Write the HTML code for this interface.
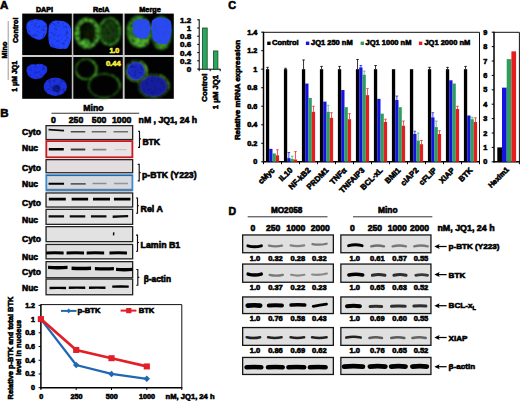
<!DOCTYPE html>
<html><head><meta charset="utf-8"><style>
html,body{margin:0;padding:0;background:#fff;}
svg{display:block;font-family:"Liberation Sans",sans-serif;}
</style></head><body>
<svg width="520" height="401" viewBox="0 0 520 401">
<defs>
<filter id="blur1" x="-20%" y="-20%" width="140%" height="140%"><feGaussianBlur stdDeviation="0.9"/></filter>
<filter id="tex" x="-20%" y="-20%" width="140%" height="140%"><feTurbulence type="fractalNoise" baseFrequency="0.35" numOctaves="2" seed="4" result="n"/><feColorMatrix in="n" type="matrix" values="0 0 0 0 0  0 0 0 0 0  0 0 0 0 0  0 0 0 2.0 -0.2" result="m"/><feComposite in="SourceGraphic" in2="m" operator="in" result="c"/><feGaussianBlur in="c" stdDeviation="0.7"/></filter>
<filter id="tex3" x="-20%" y="-20%" width="140%" height="140%"><feTurbulence type="fractalNoise" baseFrequency="0.4" numOctaves="2" seed="7" result="n"/><feColorMatrix in="n" type="matrix" values="0 0 0 0 0  0 0 0 0 0  0 0 0 0 0  0 0 0 2.2 -0.35" result="m"/><feComposite in="SourceGraphic" in2="m" operator="in" result="c"/><feGaussianBlur in="c" stdDeviation="0.95"/></filter>
<filter id="tex2" x="-20%" y="-20%" width="140%" height="140%"><feTurbulence type="fractalNoise" baseFrequency="0.35" numOctaves="2" seed="9" result="n"/><feColorMatrix in="n" type="matrix" values="0 0 0 0 0  0 0 0 0 0  0 0 0 0 0  0 0 0 1.0 0.5" result="m"/><feComposite in="SourceGraphic" in2="m" operator="in" result="c"/><feGaussianBlur in="c" stdDeviation="0.7"/></filter>
<filter id="blur05" x="-20%" y="-20%" width="140%" height="140%"><feGaussianBlur stdDeviation="0.5"/></filter>
<filter id="bblur" filterUnits="userSpaceOnUse" x="0" y="0" width="520" height="401"><feGaussianBlur stdDeviation="0.45"/></filter>
<filter id="bblur2" filterUnits="userSpaceOnUse" x="0" y="0" width="520" height="401"><feGaussianBlur stdDeviation="0.7"/></filter>
</defs>
<rect width="520" height="401" fill="#fff"/>
<text x="0" y="8.6" font-size="11.5" text-anchor="start" fill="#000" font-weight="bold" stroke="#000" stroke-width="0.6">A</text>
<text x="44.5" y="11.9" font-size="7.2" text-anchor="middle" fill="#000" font-weight="bold" stroke="#000" stroke-width="0.6">DAPI</text>
<text x="101.2" y="11.8" font-size="7.2" text-anchor="middle" fill="#000" font-weight="bold" stroke="#000" stroke-width="0.6">RelA</text>
<text x="150" y="11.8" font-size="7.3" text-anchor="middle" fill="#000" font-weight="bold" stroke="#000" stroke-width="0.6">Merge</text>
<text x="6.6" y="50" font-size="7.2" text-anchor="middle" fill="#000" font-weight="bold" transform="rotate(-90 6.6 50)" stroke="#000" stroke-width="0.6">Mino</text>
<line x1="8.20" y1="21.00" x2="8.20" y2="80.00" stroke="#9a9a9a" stroke-width="1"/>
<text x="18.2" y="30.3" font-size="7.2" text-anchor="middle" fill="#000" font-weight="bold" transform="rotate(-90 18.2 30.3)" stroke="#000" stroke-width="0.6">Control</text>
<text x="17.4" y="76.3" font-size="6.9" text-anchor="middle" fill="#000" font-weight="bold" transform="rotate(-90 17.4 76.3)" stroke="#000" stroke-width="0.6">1 μM JQ1</text>
<rect x="22.20" y="13.60" width="49.70" height="41.50" fill="#020202"/>
<rect x="73.20" y="13.60" width="49.60" height="41.50" fill="#020202"/>
<rect x="124.40" y="13.60" width="49.40" height="41.50" fill="#020202"/>
<rect x="22.20" y="56.90" width="49.70" height="41.90" fill="#020202"/>
<rect x="73.20" y="56.90" width="49.60" height="41.90" fill="#020202"/>
<rect x="124.40" y="56.90" width="49.40" height="41.90" fill="#020202"/>
<rect x="71.90" y="13.60" width="1.20" height="85.20" fill="#c4c4c4"/>
<rect x="123.10" y="13.60" width="1.20" height="85.20" fill="#c4c4c4"/>
<rect x="22.20" y="55.30" width="151.60" height="1.40" fill="#c4c4c4"/>
<g filter="url(#tex2)">
<path d="M26.5,28 C25.5,21 32,18.5 38,19.5 C44,19.5 48,23 47.2,30 C46.5,35 44,40 39,39.8 C35,39 30,36.5 27.5,33 Z" fill="#2444ff"/>
<path d="M48.8,27 C49.5,21.5 55,19.8 59,20.8 C64,20 69.5,23 70.8,28 C71.8,35 71.2,44 67,48.5 C62,50 56,48.5 51,47 C48,44 48,35 48.8,27 Z" fill="#2444ff"/>
</g>
<g filter="url(#tex3)">
<ellipse cx="87.3" cy="33.1" rx="10.8" ry="13.4" fill="none" stroke="#58c434" stroke-width="4.2"/>
<ellipse cx="88.5" cy="33" rx="6.5" ry="8" fill="#0a1e06"/>
<ellipse cx="84.5" cy="43" rx="5.5" ry="3.5" fill="#5ad83a"/>
<ellipse cx="78" cy="34" rx="2" ry="6" fill="#50c832"/>
<ellipse cx="109.7" cy="31.5" rx="10.2" ry="13.2" fill="none" stroke="#38a022" stroke-width="2.6"/>
<ellipse cx="109.7" cy="31.5" rx="8" ry="11" fill="#1c4a10"/>
</g>
<text x="109.4" y="53.1" font-size="7.1" text-anchor="start" fill="#f4ec3a" font-weight="bold" stroke="#f4ec3a" stroke-width="0.6">1.0</text>
<g filter="url(#tex3)">
<ellipse cx="139" cy="31.2" rx="12.3" ry="16" fill="#3a9c24"/>
<ellipse cx="140" cy="42" rx="9" ry="5.5" fill="#5ccc36"/>
<ellipse cx="161.2" cy="32.8" rx="11" ry="17" fill="#2a7a1c"/>
<ellipse cx="162" cy="46" rx="7" ry="3.5" fill="#4aa82c"/>
</g>
<g filter="url(#tex2)">
<path d="M132.5,24 C134,18 146,17.5 149.5,22 C151,28 150.5,35 146,38.5 C141,39.5 135,37.5 133,33 Z" fill="#2a48f6"/>
<path d="M152,21 C154,16.5 168,16 171,22 C172.2,30 171.5,40 167,43.5 C161,45 155,43 153,40 C151.2,33 151,26 152,21 Z" fill="#2a48f6"/>
</g>
<g filter="url(#tex2)">
<path d="M26.5,70 C26.5,65 32,63.5 36,64.5 C39,63 44,64 46.8,67 C48.3,71 46,73 44,75.5 C41,79.5 36,80 32,78.3 C29,77 26.5,74 26.5,70 Z" fill="#1f36ee"/>
<ellipse cx="55.3" cy="86.7" rx="11.6" ry="9.2" fill="#1c30de"/>
<ellipse cx="56.5" cy="88.5" rx="4" ry="3.5" fill="#0c1a80"/>
</g>
<g filter="url(#tex3)">
<circle cx="86" cy="69.2" r="10.1" fill="none" stroke="#3aa822" stroke-width="1.5"/>
<path d="M93,61.5 A10.1,10.1 0 0 1 90,78.8" fill="none" stroke="#5cd43a" stroke-width="1.8"/>
<path d="M76.5,73 A10.1,10.1 0 0 0 84,79.2" fill="none" stroke="#4cc42e" stroke-width="1.6"/>
<ellipse cx="104" cy="85.8" rx="15.3" ry="11.9" fill="none" stroke="#2a7a18" stroke-width="1.6"/>
<path d="M112,75 A15.3,11.9 0 0 1 118.8,90" fill="none" stroke="#3c9c22" stroke-width="1.5"/>
</g>
<text x="105.9" y="66.1" font-size="7.6" text-anchor="start" fill="#f4ec3a" font-weight="bold" stroke="#f4ec3a" stroke-width="0.6">0.44</text>
<g filter="url(#tex2)">
<circle cx="136" cy="71" r="9.4" fill="#1a2ac4"/>
<ellipse cx="153.5" cy="86.2" rx="13.8" ry="10.8" fill="#141fa0"/>
</g>
<g filter="url(#tex3)">
<circle cx="136" cy="71" r="10" fill="none" stroke="#5cb832" stroke-width="1.3"/>
<path d="M141,61.8 A10,10 0 0 1 137,81" fill="none" stroke="#7ccc3a" stroke-width="1.6"/>
<path d="M127,75 A10,10 0 0 0 134,80.8" fill="none" stroke="#70c438" stroke-width="1.6"/>
<ellipse cx="153.5" cy="86.2" rx="14.7" ry="11.5" fill="none" stroke="#4a9a2a" stroke-width="1.2"/>
<path d="M160,75.2 A14.7,11.5 0 0 1 168,90" fill="none" stroke="#6cc036" stroke-width="1.5"/>
</g>
<line x1="199.20" y1="19.30" x2="199.20" y2="69.50" stroke="#000" stroke-width="1"/>
<line x1="198.70" y1="69.20" x2="220.50" y2="69.20" stroke="#000" stroke-width="1"/>
<line x1="197.20" y1="69.00" x2="199.20" y2="69.00" stroke="#000" stroke-width="1"/>
<text x="191.2" y="71.9" font-size="8.0" text-anchor="end" fill="#000" font-weight="bold" stroke="#000" stroke-width="0.6">0</text>
<line x1="197.20" y1="60.80" x2="199.20" y2="60.80" stroke="#000" stroke-width="1"/>
<text x="191.2" y="63.699999999999996" font-size="8.0" text-anchor="end" fill="#000" font-weight="bold" stroke="#000" stroke-width="0.6">0.2</text>
<line x1="197.20" y1="52.60" x2="199.20" y2="52.60" stroke="#000" stroke-width="1"/>
<text x="191.2" y="55.49999999999999" font-size="8.0" text-anchor="end" fill="#000" font-weight="bold" stroke="#000" stroke-width="0.6">0.4</text>
<line x1="197.20" y1="44.40" x2="199.20" y2="44.40" stroke="#000" stroke-width="1"/>
<text x="191.2" y="47.29999999999999" font-size="8.0" text-anchor="end" fill="#000" font-weight="bold" stroke="#000" stroke-width="0.6">0.6</text>
<line x1="197.20" y1="36.20" x2="199.20" y2="36.20" stroke="#000" stroke-width="1"/>
<text x="191.2" y="39.099999999999994" font-size="8.0" text-anchor="end" fill="#000" font-weight="bold" stroke="#000" stroke-width="0.6">0.8</text>
<line x1="197.20" y1="28.00" x2="199.20" y2="28.00" stroke="#000" stroke-width="1"/>
<text x="191.2" y="30.9" font-size="8.0" text-anchor="end" fill="#000" font-weight="bold" stroke="#000" stroke-width="0.6">1</text>
<line x1="197.20" y1="19.80" x2="199.20" y2="19.80" stroke="#000" stroke-width="1"/>
<text x="191.2" y="22.69999999999999" font-size="8.0" text-anchor="end" fill="#000" font-weight="bold" stroke="#000" stroke-width="0.6">1.2</text>
<line x1="199.20" y1="69.20" x2="199.20" y2="71.20" stroke="#000" stroke-width="1"/>
<line x1="210.20" y1="69.20" x2="210.20" y2="71.20" stroke="#000" stroke-width="1"/>
<line x1="220.20" y1="69.20" x2="220.20" y2="71.20" stroke="#000" stroke-width="1"/>
<rect x="202.40" y="28.00" width="4.80" height="41.20" fill="#2ca65e" stroke="#134d2a" stroke-width="0.8"/>
<rect x="213.40" y="50.96" width="4.50" height="18.24" fill="#2ca65e" stroke="#134d2a" stroke-width="0.8"/>
<text x="207.4" y="73.6" font-size="7.9" text-anchor="end" fill="#000" font-weight="bold" transform="rotate(-90 207.4 73.6)" stroke="#000" stroke-width="0.6">Control</text>
<text x="217.8" y="75.0" font-size="7.7" text-anchor="end" fill="#000" font-weight="bold" transform="rotate(-90 217.8 75.0)" stroke="#000" stroke-width="0.6">1 μM JQ1</text>
<text x="0.3" y="117.2" font-size="11.5" text-anchor="start" fill="#000" font-weight="bold" stroke="#000" stroke-width="0.6">B</text>
<text x="93.4" y="110.6" font-size="8.7" text-anchor="middle" fill="#000" font-weight="bold" stroke="#000" stroke-width="0.6">Mino</text>
<line x1="51.50" y1="113.20" x2="139.20" y2="113.20" stroke="#333" stroke-width="1.1"/>
<text x="53.5" y="122.7" font-size="8.7" text-anchor="middle" fill="#000" font-weight="bold" stroke="#000" stroke-width="0.6">0</text>
<text x="76.0" y="122.7" font-size="8.7" text-anchor="middle" fill="#000" font-weight="bold" stroke="#000" stroke-width="0.6">250</text>
<text x="99.1" y="122.7" font-size="8.7" text-anchor="middle" fill="#000" font-weight="bold" stroke="#000" stroke-width="0.6">500</text>
<text x="121.7" y="122.7" font-size="8.7" text-anchor="middle" fill="#000" font-weight="bold" stroke="#000" stroke-width="0.6">1000</text>
<text x="138.6" y="123.0" font-size="8.7" text-anchor="start" fill="#000" font-weight="bold" stroke="#000" stroke-width="0.6">nM , JQ1, 24 h</text>
<rect x="46.05" y="125.65" width="86.60" height="13.90" fill="#e2e2e4" stroke="#222" stroke-width="1.3"/>
<text x="22.0" y="134.8" font-size="8.5" text-anchor="start" fill="#000" font-weight="bold" stroke="#000" stroke-width="0.6">Cyto</text>
<rect x="46.30" y="141.10" width="86.10" height="16.20" fill="#ebe4e6" stroke="#c81820" stroke-width="1.8"/>
<text x="22.0" y="151.4" font-size="8.5" text-anchor="start" fill="#000" font-weight="bold" stroke="#000" stroke-width="0.6">Nuc</text>
<rect x="46.05" y="159.65" width="86.60" height="13.10" fill="#e2dedf" stroke="#222" stroke-width="1.3"/>
<text x="22.0" y="170.6" font-size="8.5" text-anchor="start" fill="#000" font-weight="bold" stroke="#000" stroke-width="0.6">Cyto</text>
<rect x="46.30" y="175.10" width="86.10" height="15.30" fill="#d6d9dd" stroke="#3a8ad6" stroke-width="1.8"/>
<text x="22.0" y="187.2" font-size="8.5" text-anchor="start" fill="#000" font-weight="bold" stroke="#000" stroke-width="0.6">Nuc</text>
<rect x="46.05" y="192.95" width="86.60" height="14.10" fill="#e6e6e6" stroke="#222" stroke-width="1.3"/>
<text x="22.0" y="205.5" font-size="8.5" text-anchor="start" fill="#000" font-weight="bold" stroke="#000" stroke-width="0.6">Cyto</text>
<rect x="46.05" y="209.35" width="86.60" height="15.00" fill="#e4e4e4" stroke="#222" stroke-width="1.3"/>
<text x="22.0" y="222.7" font-size="8.5" text-anchor="start" fill="#000" font-weight="bold" stroke="#000" stroke-width="0.6">Nuc</text>
<rect x="46.05" y="226.65" width="86.60" height="15.00" fill="#e2e2e2" stroke="#222" stroke-width="1.3"/>
<text x="22.0" y="242.2" font-size="8.5" text-anchor="start" fill="#000" font-weight="bold" stroke="#000" stroke-width="0.6">Cyto</text>
<rect x="46.05" y="244.45" width="86.60" height="14.40" fill="#e0e0e0" stroke="#222" stroke-width="1.3"/>
<text x="22.0" y="259.7" font-size="8.5" text-anchor="start" fill="#000" font-weight="bold" stroke="#000" stroke-width="0.6">Nuc</text>
<rect x="46.05" y="261.65" width="86.60" height="16.10" fill="#dedede" stroke="#222" stroke-width="1.3"/>
<text x="22.0" y="275.0" font-size="8.5" text-anchor="start" fill="#000" font-weight="bold" stroke="#000" stroke-width="0.6">Cyto</text>
<rect x="46.05" y="279.05" width="86.60" height="15.70" fill="#e0e0e0" stroke="#222" stroke-width="1.3"/>
<text x="22.0" y="291.4" font-size="8.5" text-anchor="start" fill="#000" font-weight="bold" stroke="#000" stroke-width="0.6">Nuc</text>
<rect x="46.30" y="188.80" width="86.10" height="2.40" fill="#557ea6"/>
<line x1="46.30" y1="175.60" x2="132.40" y2="175.60" stroke="#2a5e98" stroke-width="0.9"/>
<path d="M48.55,128.85 Q56.30,129.35 64.05,129.85 L64.05,131.55 Q56.30,131.05 48.55,130.55 Z" fill="#111" fill-opacity="1" filter="url(#bblur)"/>
<path d="M70.75,131.00 Q78.00,131.00 85.25,131.00 L85.25,132.60 Q78.00,132.60 70.75,132.60 Z" fill="#333" fill-opacity="0.85" filter="url(#bblur)"/>
<path d="M91.75,131.00 Q99.00,131.00 106.25,131.00 L106.25,132.60 Q99.00,132.60 91.75,132.60 Z" fill="#333" fill-opacity="0.7" filter="url(#bblur)"/>
<path d="M113.55,131.00 Q120.80,131.00 128.05,131.00 L128.05,132.60 Q120.80,132.60 113.55,132.60 Z" fill="#333" fill-opacity="0.65" filter="url(#bblur)"/>
<path d="M48.80,148.10 Q56.30,148.10 63.80,148.10 L63.80,150.50 Q56.30,150.50 48.80,150.50 Z" fill="#000" fill-opacity="1" filter="url(#bblur)"/>
<path d="M70.75,148.60 Q78.00,148.60 85.25,148.60 L85.25,150.60 Q78.00,150.60 70.75,150.60 Z" fill="#111" fill-opacity="0.8" filter="url(#bblur)"/>
<path d="M92.75,148.80 Q99.50,148.80 106.25,148.80 L106.25,150.40 Q99.50,150.40 92.75,150.40 Z" fill="#333" fill-opacity="0.55" filter="url(#bblur)"/>
<path d="M114.80,148.90 Q120.80,148.90 126.80,148.90 L126.80,150.30 Q120.80,150.30 114.80,150.30 Z" fill="#444" fill-opacity="0.2" filter="url(#bblur)"/>
<path d="M48.55,182.75 Q56.30,182.75 64.05,182.75 L64.05,184.65 Q56.30,184.65 48.55,184.65 Z" fill="#000" fill-opacity="1" filter="url(#bblur)"/>
<path d="M70.70,183.10 Q78.20,183.10 85.70,183.10 L85.70,184.70 Q78.20,184.70 70.70,184.70 Z" fill="#333" fill-opacity="0.75" filter="url(#bblur)"/>
<path d="M92.50,182.85 Q99.50,182.85 106.50,182.85 L106.50,184.35 Q99.50,184.35 92.50,184.35 Z" fill="#444" fill-opacity="0.5" filter="url(#bblur)"/>
<path d="M114.00,182.65 Q121.00,182.65 128.00,182.65 L128.00,184.15 Q121.00,184.15 114.00,184.15 Z" fill="#444" fill-opacity="0.45" filter="url(#bblur)"/>
<path d="M48.80,197.85 Q57.30,197.55 65.80,197.85 L65.80,200.55 Q57.30,200.25 48.80,200.55 Z" fill="#000" fill-opacity="1" filter="url(#bblur)"/>
<path d="M71.65,197.85 Q79.90,197.55 88.15,197.85 L88.15,200.55 Q79.90,200.25 71.65,200.55 Z" fill="#000" fill-opacity="1" filter="url(#bblur)"/>
<path d="M93.00,197.85 Q101.50,197.55 110.00,197.85 L110.00,200.55 Q101.50,200.25 93.00,200.55 Z" fill="#000" fill-opacity="1" filter="url(#bblur)"/>
<path d="M113.95,197.85 Q122.20,197.55 130.45,197.85 L130.45,200.55 Q122.20,200.25 113.95,200.55 Z" fill="#000" fill-opacity="1" filter="url(#bblur)"/>
<path d="M48.55,215.25 Q56.30,215.25 64.05,215.25 L64.05,217.55 Q56.30,217.55 48.55,217.55 Z" fill="#000" fill-opacity="0.95" filter="url(#bblur)"/>
<path d="M69.75,215.25 Q77.50,215.25 85.25,215.25 L85.25,217.55 Q77.50,217.55 69.75,217.55 Z" fill="#000" fill-opacity="0.95" filter="url(#bblur)"/>
<path d="M90.95,215.25 Q98.70,215.25 106.45,215.25 L106.45,217.55 Q98.70,217.55 90.95,217.55 Z" fill="#000" fill-opacity="0.95" filter="url(#bblur)"/>
<path d="M112.65,215.60 Q120.40,215.25 128.15,214.90 L128.15,217.20 Q120.40,217.55 112.65,217.90 Z" fill="#000" fill-opacity="0.95" filter="url(#bblur)"/>
<path d="M113.0,232.2 L114.6,232.6 L114.2,235.6 L112.8,235.2 Z" fill="#111" filter="url(#bblur)"/>
<path d="M46.15,251.40 Q54.90,251.00 63.65,251.40 L63.65,254.40 Q54.90,254.00 46.15,254.40 Z" fill="#000" fill-opacity="1" filter="url(#bblur)"/>
<path d="M66.55,251.40 Q75.30,251.00 84.05,251.40 L84.05,254.40 Q75.30,254.00 66.55,254.40 Z" fill="#000" fill-opacity="1" filter="url(#bblur)"/>
<path d="M86.65,251.40 Q95.40,251.00 104.15,251.40 L104.15,254.40 Q95.40,254.00 86.65,254.40 Z" fill="#000" fill-opacity="1" filter="url(#bblur)"/>
<path d="M109.45,251.40 Q118.20,251.00 126.95,251.40 L126.95,254.40 Q118.20,254.00 109.45,254.40 Z" fill="#000" fill-opacity="1" filter="url(#bblur)"/>
<path d="M48.05,265.70 Q57.80,266.30 67.55,265.70 L67.55,269.10 Q57.80,269.70 48.05,269.10 Z" fill="#000" fill-opacity="1" filter="url(#bblur)"/>
<path d="M71.55,266.50 Q81.30,267.10 91.05,266.50 L91.05,269.90 Q81.30,270.50 71.55,269.90 Z" fill="#000" fill-opacity="1" filter="url(#bblur)"/>
<path d="M94.90,266.90 Q104.40,267.50 113.90,266.90 L113.90,270.30 Q104.40,270.90 94.90,270.30 Z" fill="#000" fill-opacity="1" filter="url(#bblur)"/>
<path d="M116.05,267.70 Q124.30,268.30 132.55,267.70 L132.55,271.10 Q124.30,271.70 116.05,271.10 Z" fill="#000" fill-opacity="1" filter="url(#bblur)"/>
<path d="M49.55,286.80 Q57.80,286.50 66.05,286.80 L66.05,289.20 Q57.80,288.90 49.55,289.20 Z" fill="#000" fill-opacity="1" filter="url(#bblur)"/>
<path d="M68.75,286.60 Q77.00,286.30 85.25,286.60 L85.25,289.00 Q77.00,288.70 68.75,289.00 Z" fill="#000" fill-opacity="1" filter="url(#bblur)"/>
<path d="M88.95,286.60 Q97.20,286.30 105.45,286.60 L105.45,289.00 Q97.20,288.70 88.95,289.00 Z" fill="#000" fill-opacity="1" filter="url(#bblur)"/>
<path d="M112.25,285.40 Q120.50,285.10 128.75,285.40 L128.75,287.80 Q120.50,287.50 112.25,287.80 Z" fill="#000" fill-opacity="1" filter="url(#bblur)"/>
<path d="M138.00,131.20 H139.50 V147.40 H138.00 M139.50,138.80 H141.00" fill="none" stroke="#111" stroke-width="1.15"/>
<text x="142.4" y="144.9" font-size="8.6" text-anchor="start" fill="#000" font-weight="bold" stroke="#000" stroke-width="0.6">BTK</text>
<path d="M137.70,164.40 H139.20 V180.80 H137.70 M139.20,172.60 H140.70" fill="none" stroke="#111" stroke-width="1.15"/>
<text x="142.0" y="178.2" font-size="8.7" text-anchor="start" fill="#000" font-weight="bold" stroke="#000" stroke-width="0.6">p-BTK (Y223)</text>
<path d="M136.00,198.00 H137.50 V213.20 H136.00 M137.50,205.70 H139.00" fill="none" stroke="#111" stroke-width="1.15"/>
<text x="140.6" y="211.6" font-size="8.8" text-anchor="start" fill="#000" font-weight="bold" stroke="#000" stroke-width="0.6">Rel A</text>
<path d="M136.00,235.10 H137.50 V251.20 H136.00 M137.50,242.50 H139.00" fill="none" stroke="#111" stroke-width="1.15"/>
<text x="140.6" y="248.1" font-size="8.8" text-anchor="start" fill="#000" font-weight="bold" stroke="#000" stroke-width="0.6">Lamin B1</text>
<path d="M136.30,269.50 H137.80 V285.20 H136.30 M137.80,277.30 H139.30" fill="none" stroke="#111" stroke-width="1.15"/>
<text x="143.8" y="282.0" font-size="8.3" text-anchor="start" fill="#000" font-weight="bold" stroke="#000" stroke-width="0.6">β-actin</text>
<line x1="40.90" y1="304.60" x2="181.80" y2="304.60" stroke="#111" stroke-width="1"/>
<line x1="181.80" y1="304.60" x2="181.80" y2="387.70" stroke="#111" stroke-width="1"/>
<line x1="40.90" y1="304.20" x2="40.90" y2="388.40" stroke="#000" stroke-width="1.5"/>
<line x1="40.20" y1="387.70" x2="182.30" y2="387.70" stroke="#000" stroke-width="1.5"/>
<line x1="38.60" y1="387.70" x2="40.90" y2="387.70" stroke="#000" stroke-width="1"/>
<text x="35.0" y="390.2" font-size="7.1" text-anchor="end" fill="#000" font-weight="bold" stroke="#000" stroke-width="0.6">0</text>
<line x1="38.60" y1="373.98" x2="40.90" y2="373.98" stroke="#000" stroke-width="1"/>
<text x="35.0" y="376.48" font-size="7.1" text-anchor="end" fill="#000" font-weight="bold" stroke="#000" stroke-width="0.6">0.2</text>
<line x1="38.60" y1="360.26" x2="40.90" y2="360.26" stroke="#000" stroke-width="1"/>
<text x="35.0" y="362.76" font-size="7.1" text-anchor="end" fill="#000" font-weight="bold" stroke="#000" stroke-width="0.6">0.4</text>
<line x1="38.60" y1="346.54" x2="40.90" y2="346.54" stroke="#000" stroke-width="1"/>
<text x="35.0" y="349.03999999999996" font-size="7.1" text-anchor="end" fill="#000" font-weight="bold" stroke="#000" stroke-width="0.6">0.6</text>
<line x1="38.60" y1="332.82" x2="40.90" y2="332.82" stroke="#000" stroke-width="1"/>
<text x="35.0" y="335.32" font-size="7.1" text-anchor="end" fill="#000" font-weight="bold" stroke="#000" stroke-width="0.6">0.8</text>
<line x1="38.60" y1="319.10" x2="40.90" y2="319.10" stroke="#000" stroke-width="1"/>
<text x="35.0" y="321.6" font-size="7.1" text-anchor="end" fill="#000" font-weight="bold" stroke="#000" stroke-width="0.6">1</text>
<line x1="38.60" y1="305.38" x2="40.90" y2="305.38" stroke="#000" stroke-width="1"/>
<text x="35.0" y="307.88" font-size="7.1" text-anchor="end" fill="#000" font-weight="bold" stroke="#000" stroke-width="0.6">1.2</text>
<line x1="40.90" y1="387.70" x2="40.90" y2="390.00" stroke="#000" stroke-width="1"/>
<line x1="76.20" y1="387.70" x2="76.20" y2="390.00" stroke="#000" stroke-width="1"/>
<line x1="111.50" y1="387.70" x2="111.50" y2="390.00" stroke="#000" stroke-width="1"/>
<line x1="146.80" y1="387.70" x2="146.80" y2="390.00" stroke="#000" stroke-width="1"/>
<line x1="181.80" y1="387.70" x2="181.80" y2="390.00" stroke="#000" stroke-width="1"/>
<text x="41.199999999999996" y="399.3" font-size="7.2" text-anchor="middle" fill="#000" font-weight="bold" stroke="#000" stroke-width="0.6">0</text>
<text x="76.5" y="399.3" font-size="7.2" text-anchor="middle" fill="#000" font-weight="bold" stroke="#000" stroke-width="0.6">250</text>
<text x="111.8" y="399.3" font-size="7.2" text-anchor="middle" fill="#000" font-weight="bold" stroke="#000" stroke-width="0.6">500</text>
<text x="147.10000000000002" y="399.3" font-size="7.2" text-anchor="middle" fill="#000" font-weight="bold" stroke="#000" stroke-width="0.6">1000</text>
<text x="165.6" y="399.3" font-size="7.6" text-anchor="start" fill="#000" font-weight="bold" stroke="#000" stroke-width="0.6">nM, JQ1, 24 h</text>
<polyline points="40.90,319.10 76.20,365.06 111.50,373.98 146.80,378.78" fill="none" stroke="#2168b2" stroke-width="2.3"/>
<polyline points="40.90,319.10 76.20,349.97 111.50,358.20 146.80,366.43" fill="none" stroke="#e21f27" stroke-width="2.7"/>
<path d="M40.90,315.90 L44.10,319.10 L40.90,322.30 L37.70,319.10 Z" fill="#2168b2"/>
<path d="M76.20,361.86 L79.40,365.06 L76.20,368.26 L73.00,365.06 Z" fill="#2168b2"/>
<path d="M111.50,370.78 L114.70,373.98 L111.50,377.18 L108.30,373.98 Z" fill="#2168b2"/>
<path d="M146.80,375.58 L150.00,378.78 L146.80,381.98 L143.60,378.78 Z" fill="#2168b2"/>
<rect x="37.80" y="316.10" width="6.20" height="6.00" fill="#e21f27"/>
<rect x="73.10" y="346.97" width="6.20" height="6.00" fill="#e21f27"/>
<rect x="108.40" y="355.20" width="6.20" height="6.00" fill="#e21f27"/>
<rect x="143.70" y="363.43" width="6.20" height="6.00" fill="#e21f27"/>
<line x1="61.00" y1="310.90" x2="76.50" y2="310.90" stroke="#2168b2" stroke-width="2"/>
<path d="M68.70,308.50 L71.10,310.90 L68.70,313.30 L66.30,310.90 Z" fill="#2168b2"/>
<text x="77.6" y="313.1" font-size="7.6" text-anchor="start" fill="#000" font-weight="bold" stroke="#000" stroke-width="0.6">p-BTK</text>
<line x1="120.60" y1="310.60" x2="136.40" y2="310.60" stroke="#e21f27" stroke-width="2"/>
<rect x="126.20" y="308.00" width="5.20" height="5.20" fill="#e21f27"/>
<text x="138.7" y="312.9" font-size="7.6" text-anchor="start" fill="#000" font-weight="bold" stroke="#000" stroke-width="0.6">BTK</text>
<text x="12.9" y="348.1" font-size="7.4" text-anchor="middle" fill="#000" font-weight="bold" transform="rotate(-90 12.9 348.1)" stroke="#000" stroke-width="0.6">Relative p-BTK and total BTK</text>
<text x="20.9" y="347.5" font-size="7.4" text-anchor="middle" fill="#000" font-weight="bold" transform="rotate(-90 20.9 347.5)" stroke="#000" stroke-width="0.6">level in nucleus</text>
<text x="228.2" y="9.2" font-size="10.8" text-anchor="start" fill="#000" font-weight="bold" stroke="#000" stroke-width="0.6">C</text>
<line x1="263.50" y1="32.30" x2="479.50" y2="32.30" stroke="#111" stroke-width="1"/>
<line x1="479.50" y1="32.30" x2="479.50" y2="161.80" stroke="#111" stroke-width="1"/>
<line x1="263.50" y1="31.80" x2="263.50" y2="162.60" stroke="#000" stroke-width="1.5"/>
<line x1="263.00" y1="161.80" x2="480.00" y2="161.80" stroke="#000" stroke-width="1.5"/>
<line x1="261.20" y1="161.80" x2="263.50" y2="161.80" stroke="#000" stroke-width="1"/>
<text x="257.4" y="164.4" font-size="7.3" text-anchor="end" fill="#000" font-weight="bold" stroke="#000" stroke-width="0.6">0</text>
<line x1="261.20" y1="143.28" x2="263.50" y2="143.28" stroke="#000" stroke-width="1"/>
<text x="257.4" y="145.88" font-size="7.3" text-anchor="end" fill="#000" font-weight="bold" stroke="#000" stroke-width="0.6">0.2</text>
<line x1="261.20" y1="124.76" x2="263.50" y2="124.76" stroke="#000" stroke-width="1"/>
<text x="257.4" y="127.36000000000001" font-size="7.3" text-anchor="end" fill="#000" font-weight="bold" stroke="#000" stroke-width="0.6">0.4</text>
<line x1="261.20" y1="106.24" x2="263.50" y2="106.24" stroke="#000" stroke-width="1"/>
<text x="257.4" y="108.84" font-size="7.3" text-anchor="end" fill="#000" font-weight="bold" stroke="#000" stroke-width="0.6">0.6</text>
<line x1="261.20" y1="87.72" x2="263.50" y2="87.72" stroke="#000" stroke-width="1"/>
<text x="257.4" y="90.32000000000001" font-size="7.3" text-anchor="end" fill="#000" font-weight="bold" stroke="#000" stroke-width="0.6">0.8</text>
<line x1="261.20" y1="69.20" x2="263.50" y2="69.20" stroke="#000" stroke-width="1"/>
<text x="257.4" y="71.80000000000001" font-size="7.3" text-anchor="end" fill="#000" font-weight="bold" stroke="#000" stroke-width="0.6">1</text>
<line x1="261.20" y1="50.68" x2="263.50" y2="50.68" stroke="#000" stroke-width="1"/>
<text x="257.4" y="53.28000000000001" font-size="7.3" text-anchor="end" fill="#000" font-weight="bold" stroke="#000" stroke-width="0.6">1.2</text>
<line x1="261.20" y1="32.16" x2="263.50" y2="32.16" stroke="#000" stroke-width="1"/>
<text x="257.4" y="34.76" font-size="7.3" text-anchor="end" fill="#000" font-weight="bold" stroke="#000" stroke-width="0.6">1.4</text>
<line x1="263.50" y1="161.80" x2="263.50" y2="164.20" stroke="#000" stroke-width="1"/>
<line x1="281.50" y1="161.80" x2="281.50" y2="164.20" stroke="#000" stroke-width="1"/>
<line x1="299.50" y1="161.80" x2="299.50" y2="164.20" stroke="#000" stroke-width="1"/>
<line x1="317.50" y1="161.80" x2="317.50" y2="164.20" stroke="#000" stroke-width="1"/>
<line x1="335.50" y1="161.80" x2="335.50" y2="164.20" stroke="#000" stroke-width="1"/>
<line x1="353.50" y1="161.80" x2="353.50" y2="164.20" stroke="#000" stroke-width="1"/>
<line x1="371.50" y1="161.80" x2="371.50" y2="164.20" stroke="#000" stroke-width="1"/>
<line x1="389.50" y1="161.80" x2="389.50" y2="164.20" stroke="#000" stroke-width="1"/>
<line x1="407.50" y1="161.80" x2="407.50" y2="164.20" stroke="#000" stroke-width="1"/>
<line x1="425.50" y1="161.80" x2="425.50" y2="164.20" stroke="#000" stroke-width="1"/>
<line x1="443.50" y1="161.80" x2="443.50" y2="164.20" stroke="#000" stroke-width="1"/>
<line x1="461.50" y1="161.80" x2="461.50" y2="164.20" stroke="#000" stroke-width="1"/>
<line x1="479.50" y1="161.80" x2="479.50" y2="164.20" stroke="#000" stroke-width="1"/>
<text x="240.3" y="90.0" font-size="7.9" text-anchor="middle" fill="#000" font-weight="bold" transform="rotate(-90 240.3 90.0)" stroke="#000" stroke-width="0.6">Relative mRNA expression</text>
<rect x="265.90" y="69.20" width="3.30" height="92.60" fill="#000000"/>
<line x1="267.55" y1="67.35" x2="267.55" y2="69.20" stroke="#000000" stroke-width="0.8"/>
<line x1="266.25" y1="67.35" x2="268.85" y2="67.35" stroke="#000000" stroke-width="0.8"/>
<rect x="269.20" y="148.84" width="3.30" height="12.96" fill="#1414e0"/>
<rect x="272.50" y="153.47" width="3.30" height="8.33" fill="#2e9e5e"/>
<rect x="275.80" y="155.32" width="3.30" height="6.48" fill="#e41e1e"/>
<line x1="277.45" y1="149.76" x2="277.45" y2="155.32" stroke="#e42a2a" stroke-width="0.8"/>
<line x1="276.15" y1="149.76" x2="278.75" y2="149.76" stroke="#e42a2a" stroke-width="0.8"/>
<text x="275.10" y="170.80" font-size="7.8" text-anchor="end" fill="#000" font-weight="bold" transform="rotate(-45 275.10 170.80)" stroke="#000" stroke-width="0.6">cMyc</text>
<rect x="283.90" y="69.20" width="3.30" height="92.60" fill="#000000"/>
<line x1="285.55" y1="68.27" x2="285.55" y2="69.20" stroke="#000000" stroke-width="0.8"/>
<line x1="284.25" y1="68.27" x2="286.85" y2="68.27" stroke="#000000" stroke-width="0.8"/>
<rect x="287.20" y="158.10" width="3.30" height="3.70" fill="#1414e0"/>
<line x1="288.85" y1="152.54" x2="288.85" y2="158.10" stroke="#2020e8" stroke-width="0.8"/>
<line x1="287.55" y1="152.54" x2="290.15" y2="152.54" stroke="#2020e8" stroke-width="0.8"/>
<rect x="290.50" y="159.02" width="3.30" height="2.78" fill="#2e9e5e"/>
<line x1="292.15" y1="156.24" x2="292.15" y2="159.02" stroke="#40b070" stroke-width="0.8"/>
<line x1="290.85" y1="156.24" x2="293.45" y2="156.24" stroke="#40b070" stroke-width="0.8"/>
<rect x="293.80" y="159.49" width="3.30" height="2.31" fill="#e41e1e"/>
<line x1="295.45" y1="151.61" x2="295.45" y2="159.49" stroke="#e42a2a" stroke-width="0.8"/>
<line x1="294.15" y1="151.61" x2="296.75" y2="151.61" stroke="#e42a2a" stroke-width="0.8"/>
<text x="293.10" y="170.80" font-size="7.8" text-anchor="end" fill="#000" font-weight="bold" transform="rotate(-45 293.10 170.80)" stroke="#000" stroke-width="0.6">IL10</text>
<rect x="301.90" y="69.20" width="3.30" height="92.60" fill="#000000"/>
<line x1="303.55" y1="59.94" x2="303.55" y2="69.20" stroke="#000000" stroke-width="0.8"/>
<line x1="302.25" y1="59.94" x2="304.85" y2="59.94" stroke="#000000" stroke-width="0.8"/>
<rect x="305.20" y="83.55" width="3.30" height="78.25" fill="#1414e0"/>
<rect x="308.50" y="97.91" width="3.30" height="63.89" fill="#2e9e5e"/>
<rect x="311.80" y="111.80" width="3.30" height="50.00" fill="#e41e1e"/>
<line x1="313.45" y1="106.24" x2="313.45" y2="111.80" stroke="#e42a2a" stroke-width="0.8"/>
<line x1="312.15" y1="106.24" x2="314.75" y2="106.24" stroke="#e42a2a" stroke-width="0.8"/>
<text x="311.10" y="170.80" font-size="7.8" text-anchor="end" fill="#000" font-weight="bold" transform="rotate(-45 311.10 170.80)" stroke="#000" stroke-width="0.6">NF-kB2</text>
<rect x="319.90" y="69.20" width="3.30" height="92.60" fill="#000000"/>
<line x1="321.55" y1="66.42" x2="321.55" y2="69.20" stroke="#000000" stroke-width="0.8"/>
<line x1="320.25" y1="66.42" x2="322.85" y2="66.42" stroke="#000000" stroke-width="0.8"/>
<rect x="323.20" y="101.61" width="3.30" height="60.19" fill="#1414e0"/>
<rect x="326.50" y="111.80" width="3.30" height="50.00" fill="#2e9e5e"/>
<line x1="328.15" y1="105.31" x2="328.15" y2="111.80" stroke="#40b070" stroke-width="0.8"/>
<line x1="326.85" y1="105.31" x2="329.45" y2="105.31" stroke="#40b070" stroke-width="0.8"/>
<rect x="329.80" y="117.82" width="3.30" height="43.98" fill="#e41e1e"/>
<line x1="331.45" y1="112.72" x2="331.45" y2="117.82" stroke="#e42a2a" stroke-width="0.8"/>
<line x1="330.15" y1="112.72" x2="332.75" y2="112.72" stroke="#e42a2a" stroke-width="0.8"/>
<text x="329.10" y="170.80" font-size="7.8" text-anchor="end" fill="#000" font-weight="bold" transform="rotate(-45 329.10 170.80)" stroke="#000" stroke-width="0.6">PRDM1</text>
<rect x="337.90" y="69.20" width="3.30" height="92.60" fill="#000000"/>
<line x1="339.55" y1="66.42" x2="339.55" y2="69.20" stroke="#000000" stroke-width="0.8"/>
<line x1="338.25" y1="66.42" x2="340.85" y2="66.42" stroke="#000000" stroke-width="0.8"/>
<rect x="341.20" y="90.04" width="3.30" height="71.77" fill="#1414e0"/>
<rect x="344.50" y="107.17" width="3.30" height="54.63" fill="#2e9e5e"/>
<rect x="347.80" y="119.20" width="3.30" height="42.60" fill="#e41e1e"/>
<line x1="349.45" y1="113.65" x2="349.45" y2="119.20" stroke="#e42a2a" stroke-width="0.8"/>
<line x1="348.15" y1="113.65" x2="350.75" y2="113.65" stroke="#e42a2a" stroke-width="0.8"/>
<text x="347.10" y="170.80" font-size="7.8" text-anchor="end" fill="#000" font-weight="bold" transform="rotate(-45 347.10 170.80)" stroke="#000" stroke-width="0.6">TNFα</text>
<rect x="355.90" y="69.20" width="3.30" height="92.60" fill="#000000"/>
<line x1="357.55" y1="59.48" x2="357.55" y2="69.20" stroke="#000000" stroke-width="0.8"/>
<line x1="356.25" y1="59.48" x2="358.85" y2="59.48" stroke="#000000" stroke-width="0.8"/>
<rect x="359.20" y="67.35" width="3.30" height="94.45" fill="#1414e0"/>
<line x1="360.85" y1="65.50" x2="360.85" y2="67.35" stroke="#2020e8" stroke-width="0.8"/>
<line x1="359.55" y1="65.50" x2="362.15" y2="65.50" stroke="#2020e8" stroke-width="0.8"/>
<rect x="362.50" y="74.76" width="3.30" height="87.04" fill="#2e9e5e"/>
<line x1="364.15" y1="71.05" x2="364.15" y2="74.76" stroke="#40b070" stroke-width="0.8"/>
<line x1="362.85" y1="71.05" x2="365.45" y2="71.05" stroke="#40b070" stroke-width="0.8"/>
<rect x="365.80" y="95.13" width="3.30" height="66.67" fill="#e41e1e"/>
<line x1="367.45" y1="88.65" x2="367.45" y2="95.13" stroke="#e42a2a" stroke-width="0.8"/>
<line x1="366.15" y1="88.65" x2="368.75" y2="88.65" stroke="#e42a2a" stroke-width="0.8"/>
<text x="365.10" y="170.80" font-size="7.8" text-anchor="end" fill="#000" font-weight="bold" transform="rotate(-45 365.10 170.80)" stroke="#000" stroke-width="0.6">TNFAIP3</text>
<rect x="373.90" y="69.20" width="3.30" height="92.60" fill="#000000"/>
<line x1="375.55" y1="65.50" x2="375.55" y2="69.20" stroke="#000000" stroke-width="0.8"/>
<line x1="374.25" y1="65.50" x2="376.85" y2="65.50" stroke="#000000" stroke-width="0.8"/>
<rect x="377.20" y="98.83" width="3.30" height="62.97" fill="#1414e0"/>
<rect x="380.50" y="113.65" width="3.30" height="48.15" fill="#2e9e5e"/>
<rect x="383.80" y="121.98" width="3.30" height="39.82" fill="#e41e1e"/>
<line x1="385.45" y1="119.20" x2="385.45" y2="121.98" stroke="#e42a2a" stroke-width="0.8"/>
<line x1="384.15" y1="119.20" x2="386.75" y2="119.20" stroke="#e42a2a" stroke-width="0.8"/>
<text x="383.10" y="170.80" font-size="7.8" text-anchor="end" fill="#000" font-weight="bold" transform="rotate(-45 383.10 170.80)" stroke="#000" stroke-width="0.6">BCL-xL</text>
<rect x="391.90" y="69.20" width="3.30" height="92.60" fill="#000000"/>
<rect x="395.20" y="100.04" width="3.30" height="61.76" fill="#1414e0"/>
<line x1="396.85" y1="96.05" x2="396.85" y2="100.04" stroke="#2020e8" stroke-width="0.8"/>
<line x1="395.55" y1="96.05" x2="398.15" y2="96.05" stroke="#2020e8" stroke-width="0.8"/>
<rect x="398.50" y="107.17" width="3.30" height="54.63" fill="#2e9e5e"/>
<rect x="401.80" y="125.69" width="3.30" height="36.11" fill="#e41e1e"/>
<line x1="403.45" y1="121.06" x2="403.45" y2="125.69" stroke="#e42a2a" stroke-width="0.8"/>
<line x1="402.15" y1="121.06" x2="404.75" y2="121.06" stroke="#e42a2a" stroke-width="0.8"/>
<text x="401.10" y="170.80" font-size="7.8" text-anchor="end" fill="#000" font-weight="bold" transform="rotate(-45 401.10 170.80)" stroke="#000" stroke-width="0.6">BMI1</text>
<rect x="409.90" y="69.20" width="3.30" height="92.60" fill="#000000"/>
<rect x="413.20" y="134.02" width="3.30" height="27.78" fill="#1414e0"/>
<line x1="414.85" y1="131.24" x2="414.85" y2="134.02" stroke="#2020e8" stroke-width="0.8"/>
<line x1="413.55" y1="131.24" x2="416.15" y2="131.24" stroke="#2020e8" stroke-width="0.8"/>
<rect x="416.50" y="140.50" width="3.30" height="21.30" fill="#2e9e5e"/>
<line x1="418.15" y1="133.09" x2="418.15" y2="140.50" stroke="#40b070" stroke-width="0.8"/>
<line x1="416.85" y1="133.09" x2="419.45" y2="133.09" stroke="#40b070" stroke-width="0.8"/>
<rect x="419.80" y="144.21" width="3.30" height="17.59" fill="#e41e1e"/>
<line x1="421.45" y1="140.50" x2="421.45" y2="144.21" stroke="#e42a2a" stroke-width="0.8"/>
<line x1="420.15" y1="140.50" x2="422.75" y2="140.50" stroke="#e42a2a" stroke-width="0.8"/>
<text x="419.10" y="170.80" font-size="7.8" text-anchor="end" fill="#000" font-weight="bold" transform="rotate(-45 419.10 170.80)" stroke="#000" stroke-width="0.6">cIAP2</text>
<rect x="427.90" y="69.20" width="3.30" height="92.60" fill="#000000"/>
<line x1="429.55" y1="67.35" x2="429.55" y2="69.20" stroke="#000000" stroke-width="0.8"/>
<line x1="428.25" y1="67.35" x2="430.85" y2="67.35" stroke="#000000" stroke-width="0.8"/>
<rect x="431.20" y="117.35" width="3.30" height="44.45" fill="#1414e0"/>
<line x1="432.85" y1="112.72" x2="432.85" y2="117.35" stroke="#2020e8" stroke-width="0.8"/>
<line x1="431.55" y1="112.72" x2="434.15" y2="112.72" stroke="#2020e8" stroke-width="0.8"/>
<rect x="434.50" y="127.08" width="3.30" height="34.72" fill="#2e9e5e"/>
<line x1="436.15" y1="121.06" x2="436.15" y2="127.08" stroke="#40b070" stroke-width="0.8"/>
<line x1="434.85" y1="121.06" x2="437.45" y2="121.06" stroke="#40b070" stroke-width="0.8"/>
<rect x="437.80" y="134.02" width="3.30" height="27.78" fill="#e41e1e"/>
<line x1="439.45" y1="130.78" x2="439.45" y2="134.02" stroke="#e42a2a" stroke-width="0.8"/>
<line x1="438.15" y1="130.78" x2="440.75" y2="130.78" stroke="#e42a2a" stroke-width="0.8"/>
<text x="437.10" y="170.80" font-size="7.8" text-anchor="end" fill="#000" font-weight="bold" transform="rotate(-45 437.10 170.80)" stroke="#000" stroke-width="0.6">cFLIP</text>
<rect x="445.90" y="69.20" width="3.30" height="92.60" fill="#000000"/>
<line x1="447.55" y1="67.35" x2="447.55" y2="69.20" stroke="#000000" stroke-width="0.8"/>
<line x1="446.25" y1="67.35" x2="448.85" y2="67.35" stroke="#000000" stroke-width="0.8"/>
<rect x="449.20" y="80.31" width="3.30" height="81.49" fill="#1414e0"/>
<rect x="452.50" y="83.55" width="3.30" height="78.25" fill="#2e9e5e"/>
<rect x="455.80" y="109.02" width="3.30" height="52.78" fill="#e41e1e"/>
<line x1="457.45" y1="106.24" x2="457.45" y2="109.02" stroke="#e42a2a" stroke-width="0.8"/>
<line x1="456.15" y1="106.24" x2="458.75" y2="106.24" stroke="#e42a2a" stroke-width="0.8"/>
<text x="455.10" y="170.80" font-size="7.8" text-anchor="end" fill="#000" font-weight="bold" transform="rotate(-45 455.10 170.80)" stroke="#000" stroke-width="0.6">XIAP</text>
<rect x="463.90" y="69.20" width="3.30" height="92.60" fill="#000000"/>
<line x1="465.55" y1="66.42" x2="465.55" y2="69.20" stroke="#000000" stroke-width="0.8"/>
<line x1="464.25" y1="66.42" x2="466.85" y2="66.42" stroke="#000000" stroke-width="0.8"/>
<rect x="467.20" y="115.50" width="3.30" height="46.30" fill="#1414e0"/>
<rect x="470.50" y="119.20" width="3.30" height="42.60" fill="#2e9e5e"/>
<line x1="472.15" y1="117.35" x2="472.15" y2="119.20" stroke="#40b070" stroke-width="0.8"/>
<line x1="470.85" y1="117.35" x2="473.45" y2="117.35" stroke="#40b070" stroke-width="0.8"/>
<rect x="473.80" y="121.98" width="3.30" height="39.82" fill="#e41e1e"/>
<line x1="475.45" y1="117.82" x2="475.45" y2="121.98" stroke="#e42a2a" stroke-width="0.8"/>
<line x1="474.15" y1="117.82" x2="476.75" y2="117.82" stroke="#e42a2a" stroke-width="0.8"/>
<text x="473.10" y="170.80" font-size="7.8" text-anchor="end" fill="#000" font-weight="bold" transform="rotate(-45 473.10 170.80)" stroke="#000" stroke-width="0.6">BTK</text>
<rect x="267.20" y="41.60" width="3.40" height="3.40" fill="#000"/>
<text x="272.0" y="45.4" font-size="7.5" text-anchor="start" fill="#000" font-weight="bold" stroke="#000" stroke-width="0.6">Control</text>
<rect x="305.90" y="41.60" width="3.40" height="3.40" fill="#1414e0"/>
<text x="311.0" y="45.4" font-size="7.5" text-anchor="start" fill="#000" font-weight="bold" stroke="#000" stroke-width="0.6">JQ1 250 nM</text>
<rect x="360.60" y="41.60" width="3.40" height="3.40" fill="#2e9e5e"/>
<text x="365.6" y="45.4" font-size="7.5" text-anchor="start" fill="#000" font-weight="bold" stroke="#000" stroke-width="0.6">JQ1 1000 nM</text>
<rect x="418.90" y="41.60" width="3.40" height="3.40" fill="#e41e1e"/>
<text x="424.4" y="45.4" font-size="7.5" text-anchor="start" fill="#000" font-weight="bold" stroke="#000" stroke-width="0.6">JQ1 2000 nM</text>
<line x1="494.00" y1="32.30" x2="519.40" y2="32.30" stroke="#111" stroke-width="1"/>
<line x1="519.40" y1="32.30" x2="519.40" y2="161.80" stroke="#111" stroke-width="1"/>
<line x1="494.00" y1="31.80" x2="494.00" y2="162.60" stroke="#000" stroke-width="1.5"/>
<line x1="493.50" y1="161.80" x2="519.90" y2="161.80" stroke="#000" stroke-width="1.5"/>
<line x1="491.70" y1="161.80" x2="494.00" y2="161.80" stroke="#000" stroke-width="1"/>
<text x="487.2" y="164.4" font-size="7.3" text-anchor="end" fill="#000" font-weight="bold" stroke="#000" stroke-width="0.6">0</text>
<line x1="491.70" y1="147.40" x2="494.00" y2="147.40" stroke="#000" stroke-width="1"/>
<text x="487.2" y="150.0" font-size="7.3" text-anchor="end" fill="#000" font-weight="bold" stroke="#000" stroke-width="0.6">1</text>
<line x1="491.70" y1="133.00" x2="494.00" y2="133.00" stroke="#000" stroke-width="1"/>
<text x="487.2" y="135.6" font-size="7.3" text-anchor="end" fill="#000" font-weight="bold" stroke="#000" stroke-width="0.6">2</text>
<line x1="491.70" y1="118.60" x2="494.00" y2="118.60" stroke="#000" stroke-width="1"/>
<text x="487.2" y="121.2" font-size="7.3" text-anchor="end" fill="#000" font-weight="bold" stroke="#000" stroke-width="0.6">3</text>
<line x1="491.70" y1="104.20" x2="494.00" y2="104.20" stroke="#000" stroke-width="1"/>
<text x="487.2" y="106.80000000000001" font-size="7.3" text-anchor="end" fill="#000" font-weight="bold" stroke="#000" stroke-width="0.6">4</text>
<line x1="491.70" y1="89.80" x2="494.00" y2="89.80" stroke="#000" stroke-width="1"/>
<text x="487.2" y="92.4" font-size="7.3" text-anchor="end" fill="#000" font-weight="bold" stroke="#000" stroke-width="0.6">5</text>
<line x1="491.70" y1="75.40" x2="494.00" y2="75.40" stroke="#000" stroke-width="1"/>
<text x="487.2" y="78.0" font-size="7.3" text-anchor="end" fill="#000" font-weight="bold" stroke="#000" stroke-width="0.6">6</text>
<line x1="491.70" y1="61.00" x2="494.00" y2="61.00" stroke="#000" stroke-width="1"/>
<text x="487.2" y="63.600000000000016" font-size="7.3" text-anchor="end" fill="#000" font-weight="bold" stroke="#000" stroke-width="0.6">7</text>
<line x1="491.70" y1="46.60" x2="494.00" y2="46.60" stroke="#000" stroke-width="1"/>
<text x="487.2" y="49.20000000000001" font-size="7.3" text-anchor="end" fill="#000" font-weight="bold" stroke="#000" stroke-width="0.6">8</text>
<line x1="491.70" y1="32.20" x2="494.00" y2="32.20" stroke="#000" stroke-width="1"/>
<text x="487.2" y="34.80000000000002" font-size="7.3" text-anchor="end" fill="#000" font-weight="bold" stroke="#000" stroke-width="0.6">9</text>
<line x1="519.40" y1="161.80" x2="519.40" y2="164.20" stroke="#000" stroke-width="1"/>
<rect x="497.30" y="147.40" width="4.70" height="14.40" fill="#000000"/>
<rect x="502.00" y="87.64" width="4.70" height="74.16" fill="#1414e0"/>
<rect x="506.70" y="59.13" width="4.70" height="102.67" fill="#2e9e5e"/>
<rect x="511.40" y="51.35" width="4.70" height="110.45" fill="#e41e1e"/>
<text x="509.5" y="170.0" font-size="7.3" text-anchor="end" fill="#000" font-weight="bold" transform="rotate(-45 509.5 170.0)" stroke="#000" stroke-width="0.6">Hexim1</text>
<text x="228.4" y="214.8" font-size="10.5" text-anchor="start" fill="#000" font-weight="bold" stroke="#000" stroke-width="0.6">D</text>
<text x="286.6" y="213.1" font-size="8.2" text-anchor="middle" fill="#000" font-weight="bold" stroke="#000" stroke-width="0.6">MO2058</text>
<text x="387.8" y="213.1" font-size="8.4" text-anchor="middle" fill="#000" font-weight="bold" stroke="#000" stroke-width="0.6">Mino</text>
<line x1="247.70" y1="216.80" x2="327.50" y2="216.80" stroke="#333" stroke-width="1"/>
<line x1="353.00" y1="216.80" x2="432.30" y2="216.80" stroke="#333" stroke-width="1"/>
<text x="252.8" y="230.8" font-size="8.6" text-anchor="middle" fill="#000" font-weight="bold" stroke="#000" stroke-width="0.6">0</text>
<text x="273.2" y="230.8" font-size="8.6" text-anchor="middle" fill="#000" font-weight="bold" stroke="#000" stroke-width="0.6">250</text>
<text x="295.8" y="230.8" font-size="8.6" text-anchor="middle" fill="#000" font-weight="bold" stroke="#000" stroke-width="0.6">1000</text>
<text x="320.3" y="230.8" font-size="8.6" text-anchor="middle" fill="#000" font-weight="bold" stroke="#000" stroke-width="0.6">2000</text>
<text x="352.4" y="230.8" font-size="8.6" text-anchor="middle" fill="#000" font-weight="bold" stroke="#000" stroke-width="0.6">0</text>
<text x="374.8" y="230.8" font-size="8.6" text-anchor="middle" fill="#000" font-weight="bold" stroke="#000" stroke-width="0.6">250</text>
<text x="397.3" y="230.8" font-size="8.6" text-anchor="middle" fill="#000" font-weight="bold" stroke="#000" stroke-width="0.6">1000</text>
<text x="419.5" y="230.8" font-size="8.6" text-anchor="middle" fill="#000" font-weight="bold" stroke="#000" stroke-width="0.6">2000</text>
<text x="437.4" y="231.2" font-size="8.9" text-anchor="start" fill="#000" font-weight="bold" stroke="#000" stroke-width="0.6">nM, JQ1, 24 h</text>
<rect x="242.65" y="234.95" width="90.70" height="17.80" fill="#e0e0e0" stroke="#161616" stroke-width="1.3"/>
<rect x="340.85" y="234.95" width="90.10" height="17.80" fill="#e0e0e0" stroke="#161616" stroke-width="1.3"/>
<rect x="242.65" y="264.05" width="90.70" height="18.20" fill="#e0e0e0" stroke="#161616" stroke-width="1.3"/>
<rect x="340.85" y="264.05" width="90.10" height="18.20" fill="#e0e0e0" stroke="#161616" stroke-width="1.3"/>
<rect x="242.65" y="296.95" width="90.70" height="16.60" fill="#e0e0e0" stroke="#161616" stroke-width="1.3"/>
<rect x="340.85" y="296.95" width="90.10" height="16.60" fill="#e0e0e0" stroke="#161616" stroke-width="1.3"/>
<rect x="242.65" y="327.55" width="90.70" height="17.80" fill="#e0e0e0" stroke="#161616" stroke-width="1.3"/>
<rect x="340.85" y="327.55" width="90.10" height="17.80" fill="#e0e0e0" stroke="#161616" stroke-width="1.3"/>
<rect x="242.65" y="357.45" width="90.70" height="17.00" fill="#e0e0e0" stroke="#161616" stroke-width="1.3"/>
<rect x="340.85" y="357.45" width="90.10" height="17.00" fill="#e0e0e0" stroke="#161616" stroke-width="1.3"/>
<path d="M247.90,245.90 Q254.65,247.70 261.40,245.90" fill="none" stroke="#000" stroke-opacity="1" stroke-width="3.00" stroke-linecap="round" filter="url(#bblur)"/>
<path d="M268.90,245.60 Q275.50,247.20 282.10,245.60" fill="none" stroke="#333" stroke-opacity="0.6" stroke-width="2.20" stroke-linecap="round" filter="url(#bblur)"/>
<path d="M290.60,245.40 Q297.40,247.00 304.20,245.40" fill="none" stroke="#333" stroke-opacity="0.55" stroke-width="2.20" stroke-linecap="round" filter="url(#bblur)"/>
<path d="M312.40,244.10 Q319.55,245.30 326.70,243.70" fill="none" stroke="#333" stroke-opacity="0.6" stroke-width="2.20" stroke-linecap="round" filter="url(#bblur)"/>
<path d="M348.60,245.60 Q355.35,244.00 362.10,245.60" fill="none" stroke="#000" stroke-opacity="1" stroke-width="3.00" stroke-linecap="round" filter="url(#bblur)"/>
<path d="M371.20,246.30 Q377.60,244.70 384.00,246.30" fill="none" stroke="#333" stroke-opacity="0.65" stroke-width="2.40" stroke-linecap="round" filter="url(#bblur)"/>
<path d="M392.60,246.30 Q399.25,244.70 405.90,246.30" fill="none" stroke="#333" stroke-opacity="0.6" stroke-width="2.40" stroke-linecap="round" filter="url(#bblur)"/>
<path d="M414.20,246.30 Q421.00,244.70 427.80,246.30" fill="none" stroke="#333" stroke-opacity="0.6" stroke-width="2.40" stroke-linecap="round" filter="url(#bblur)"/>
<path d="M248.10,274.10 Q254.70,275.90 261.30,274.10" fill="none" stroke="#000" stroke-opacity="1" stroke-width="3.40" stroke-linecap="round" filter="url(#bblur)"/>
<path d="M269.65,274.80 Q276.25,276.40 282.85,274.80" fill="none" stroke="#333" stroke-opacity="0.6" stroke-width="2.30" stroke-linecap="round" filter="url(#bblur)"/>
<path d="M291.10,274.80 Q297.75,276.40 304.40,274.80" fill="none" stroke="#333" stroke-opacity="0.5" stroke-width="2.20" stroke-linecap="round" filter="url(#bblur)"/>
<path d="M312.10,274.50 Q319.50,275.60 326.90,273.50" fill="none" stroke="#333" stroke-opacity="0.5" stroke-width="2.20" stroke-linecap="round" filter="url(#bblur)"/>
<path d="M348.90,274.90 Q355.80,273.50 362.70,274.90" fill="none" stroke="#000" stroke-opacity="1" stroke-width="3.60" stroke-linecap="round" filter="url(#bblur)"/>
<path d="M372.40,275.30 Q378.65,273.90 384.90,275.30" fill="none" stroke="#111" stroke-opacity="0.85" stroke-width="3.00" stroke-linecap="round" filter="url(#bblur)"/>
<path d="M394.00,275.30 Q400.00,273.90 406.00,275.30" fill="none" stroke="#111" stroke-opacity="0.85" stroke-width="3.00" stroke-linecap="round" filter="url(#bblur)"/>
<path d="M415.80,275.30 Q421.70,273.90 427.60,275.30" fill="none" stroke="#111" stroke-opacity="0.8" stroke-width="2.80" stroke-linecap="round" filter="url(#bblur)"/>
<path d="M247.70,305.60 Q253.95,305.00 260.20,305.60" fill="none" stroke="#000" stroke-opacity="1" stroke-width="4.60" stroke-linecap="round" filter="url(#bblur)"/>
<path d="M268.80,305.60 Q275.40,305.00 282.00,305.60" fill="none" stroke="#000" stroke-opacity="1" stroke-width="4.00" stroke-linecap="round" filter="url(#bblur)"/>
<path d="M291.05,305.10 Q297.90,304.50 304.75,305.10" fill="none" stroke="#000" stroke-opacity="1" stroke-width="3.50" stroke-linecap="round" filter="url(#bblur)"/>
<path d="M313.20,306.30 Q319.85,304.80 326.50,304.10" fill="none" stroke="#000" stroke-opacity="1" stroke-width="2.80" stroke-linecap="round" filter="url(#bblur)"/>
<path d="M347.00,306.20 Q353.45,305.40 359.90,306.20" fill="none" stroke="#000" stroke-opacity="1" stroke-width="4.00" stroke-linecap="round" filter="url(#bblur)"/>
<path d="M370.10,306.60 Q375.90,306.00 381.70,306.60" fill="none" stroke="#111" stroke-opacity="0.85" stroke-width="3.00" stroke-linecap="round" filter="url(#bblur)"/>
<path d="M391.50,306.30 Q398.35,305.70 405.20,306.30" fill="none" stroke="#111" stroke-opacity="0.85" stroke-width="3.00" stroke-linecap="round" filter="url(#bblur)"/>
<path d="M413.90,306.10 Q419.90,305.50 425.90,306.10" fill="none" stroke="#111" stroke-opacity="0.85" stroke-width="3.00" stroke-linecap="round" filter="url(#bblur)"/>
<path d="M246.70,337.20 Q253.40,338.80 260.10,337.20" fill="none" stroke="#111" stroke-opacity="0.9" stroke-width="2.60" stroke-linecap="round" filter="url(#bblur)"/>
<path d="M268.10,337.20 Q274.85,338.80 281.60,337.20" fill="none" stroke="#111" stroke-opacity="0.9" stroke-width="2.60" stroke-linecap="round" filter="url(#bblur)"/>
<path d="M290.60,337.20 Q297.35,338.80 304.10,337.20" fill="none" stroke="#111" stroke-opacity="0.9" stroke-width="2.60" stroke-linecap="round" filter="url(#bblur)"/>
<path d="M312.10,337.20 Q319.35,338.80 326.60,337.20" fill="none" stroke="#111" stroke-opacity="0.9" stroke-width="2.60" stroke-linecap="round" filter="url(#bblur)"/>
<path d="M346.30,337.60 Q353.50,336.00 360.70,337.60" fill="none" stroke="#111" stroke-opacity="0.9" stroke-width="2.60" stroke-linecap="round" filter="url(#bblur)"/>
<path d="M369.40,338.00 Q375.70,336.40 382.00,338.00" fill="none" stroke="#222" stroke-opacity="0.7" stroke-width="2.40" stroke-linecap="round" filter="url(#bblur)"/>
<path d="M391.20,338.00 Q397.80,336.40 404.40,338.00" fill="none" stroke="#222" stroke-opacity="0.7" stroke-width="2.40" stroke-linecap="round" filter="url(#bblur)"/>
<path d="M412.40,338.00 Q419.10,336.40 425.80,338.00" fill="none" stroke="#222" stroke-opacity="0.65" stroke-width="2.40" stroke-linecap="round" filter="url(#bblur)"/>
<path d="M246.60,367.30 Q253.95,366.70 261.30,367.30" fill="none" stroke="#000" stroke-opacity="1" stroke-width="4.60" stroke-linecap="round" filter="url(#bblur)"/>
<path d="M268.00,367.30 Q275.35,366.70 282.70,367.30" fill="none" stroke="#000" stroke-opacity="1" stroke-width="4.60" stroke-linecap="round" filter="url(#bblur)"/>
<path d="M288.40,367.30 Q296.30,366.70 304.20,367.30" fill="none" stroke="#000" stroke-opacity="1" stroke-width="4.60" stroke-linecap="round" filter="url(#bblur)"/>
<path d="M309.90,367.30 Q317.75,366.70 325.60,367.30" fill="none" stroke="#000" stroke-opacity="1" stroke-width="4.60" stroke-linecap="round" filter="url(#bblur)"/>
<path d="M344.10,366.60 Q353.50,365.80 362.90,366.60" fill="none" stroke="#000" stroke-opacity="1" stroke-width="4.80" stroke-linecap="round" filter="url(#bblur)"/>
<path d="M369.90,366.60 Q377.60,365.80 385.30,366.60" fill="none" stroke="#000" stroke-opacity="1" stroke-width="4.80" stroke-linecap="round" filter="url(#bblur)"/>
<path d="M391.20,366.60 Q398.35,365.80 405.50,366.60" fill="none" stroke="#000" stroke-opacity="1" stroke-width="4.80" stroke-linecap="round" filter="url(#bblur)"/>
<path d="M412.40,366.60 Q419.60,365.80 426.80,366.60" fill="none" stroke="#000" stroke-opacity="1" stroke-width="4.80" stroke-linecap="round" filter="url(#bblur)"/>
<text x="255.0" y="260.9" font-size="7.5" text-anchor="middle" fill="#000" font-weight="bold" stroke="#000" stroke-width="0.6">1.0</text>
<text x="275.5" y="260.9" font-size="7.5" text-anchor="middle" fill="#000" font-weight="bold" stroke="#000" stroke-width="0.6">0.32</text>
<text x="297.9" y="260.9" font-size="7.5" text-anchor="middle" fill="#000" font-weight="bold" stroke="#000" stroke-width="0.6">0.28</text>
<text x="319.3" y="260.9" font-size="7.5" text-anchor="middle" fill="#000" font-weight="bold" stroke="#000" stroke-width="0.6">0.32</text>
<text x="354.8" y="260.9" font-size="7.5" text-anchor="middle" fill="#000" font-weight="bold" stroke="#000" stroke-width="0.6">1.0</text>
<text x="377.3" y="260.9" font-size="7.5" text-anchor="middle" fill="#000" font-weight="bold" stroke="#000" stroke-width="0.6">0.61</text>
<text x="399.6" y="260.9" font-size="7.5" text-anchor="middle" fill="#000" font-weight="bold" stroke="#000" stroke-width="0.6">0.57</text>
<text x="421.0" y="260.9" font-size="7.5" text-anchor="middle" fill="#000" font-weight="bold" stroke="#000" stroke-width="0.6">0.55</text>
<text x="255.0" y="290.0" font-size="7.5" text-anchor="middle" fill="#000" font-weight="bold" stroke="#000" stroke-width="0.6">1.0</text>
<text x="275.5" y="290.0" font-size="7.5" text-anchor="middle" fill="#000" font-weight="bold" stroke="#000" stroke-width="0.6">0.37</text>
<text x="297.9" y="290.0" font-size="7.5" text-anchor="middle" fill="#000" font-weight="bold" stroke="#000" stroke-width="0.6">0.22</text>
<text x="319.3" y="290.0" font-size="7.5" text-anchor="middle" fill="#000" font-weight="bold" stroke="#000" stroke-width="0.6">0.23</text>
<text x="354.8" y="290.0" font-size="7.5" text-anchor="middle" fill="#000" font-weight="bold" stroke="#000" stroke-width="0.6">1.0</text>
<text x="377.3" y="290.0" font-size="7.5" text-anchor="middle" fill="#000" font-weight="bold" stroke="#000" stroke-width="0.6">0.65</text>
<text x="399.6" y="290.0" font-size="7.5" text-anchor="middle" fill="#000" font-weight="bold" stroke="#000" stroke-width="0.6">0.63</text>
<text x="421.0" y="290.0" font-size="7.5" text-anchor="middle" fill="#000" font-weight="bold" stroke="#000" stroke-width="0.6">0.52</text>
<text x="255.0" y="321.4" font-size="7.5" text-anchor="middle" fill="#000" font-weight="bold" stroke="#000" stroke-width="0.6">1.0</text>
<text x="275.5" y="321.4" font-size="7.5" text-anchor="middle" fill="#000" font-weight="bold" stroke="#000" stroke-width="0.6">0.76</text>
<text x="297.9" y="321.4" font-size="7.5" text-anchor="middle" fill="#000" font-weight="bold" stroke="#000" stroke-width="0.6">0.58</text>
<text x="319.3" y="321.4" font-size="7.5" text-anchor="middle" fill="#000" font-weight="bold" stroke="#000" stroke-width="0.6">0.43</text>
<text x="354.8" y="321.4" font-size="7.5" text-anchor="middle" fill="#000" font-weight="bold" stroke="#000" stroke-width="0.6">1.0</text>
<text x="377.3" y="321.4" font-size="7.5" text-anchor="middle" fill="#000" font-weight="bold" stroke="#000" stroke-width="0.6">0.69</text>
<text x="399.6" y="321.4" font-size="7.5" text-anchor="middle" fill="#000" font-weight="bold" stroke="#000" stroke-width="0.6">0.60</text>
<text x="421.0" y="321.4" font-size="7.5" text-anchor="middle" fill="#000" font-weight="bold" stroke="#000" stroke-width="0.6">0.55</text>
<text x="255.0" y="353.2" font-size="7.5" text-anchor="middle" fill="#000" font-weight="bold" stroke="#000" stroke-width="0.6">1.0</text>
<text x="275.5" y="353.2" font-size="7.5" text-anchor="middle" fill="#000" font-weight="bold" stroke="#000" stroke-width="0.6">0.86</text>
<text x="297.9" y="353.2" font-size="7.5" text-anchor="middle" fill="#000" font-weight="bold" stroke="#000" stroke-width="0.6">0.69</text>
<text x="319.3" y="353.2" font-size="7.5" text-anchor="middle" fill="#000" font-weight="bold" stroke="#000" stroke-width="0.6">0.62</text>
<text x="354.8" y="353.2" font-size="7.5" text-anchor="middle" fill="#000" font-weight="bold" stroke="#000" stroke-width="0.6">1.0</text>
<text x="377.3" y="353.2" font-size="7.5" text-anchor="middle" fill="#000" font-weight="bold" stroke="#000" stroke-width="0.6">0.76</text>
<text x="399.6" y="353.2" font-size="7.5" text-anchor="middle" fill="#000" font-weight="bold" stroke="#000" stroke-width="0.6">0.65</text>
<text x="421.0" y="353.2" font-size="7.5" text-anchor="middle" fill="#000" font-weight="bold" stroke="#000" stroke-width="0.6">0.52</text>
<path d="M446.6,246.50 H436.5" stroke="#000" stroke-width="1.25"/>
<path d="M434.3,246.50 L439.6,244.00 L438.6,246.50 L439.6,249.00 Z" fill="#000"/>
<text x="448.6" y="249.2" font-size="8.1" text-anchor="start" fill="#000" font-weight="bold" stroke="#000" stroke-width="0.6">p-BTK (Y223)</text>
<path d="M446.6,274.60 H436.5" stroke="#000" stroke-width="1.25"/>
<path d="M434.3,274.60 L439.6,272.10 L438.6,274.60 L439.6,277.10 Z" fill="#000"/>
<text x="448.6" y="277.9" font-size="8.1" text-anchor="start" fill="#000" font-weight="bold" stroke="#000" stroke-width="0.6">BTK</text>
<path d="M446.6,305.70 H436.5" stroke="#000" stroke-width="1.25"/>
<path d="M434.3,305.70 L439.6,303.20 L438.6,305.70 L439.6,308.20 Z" fill="#000"/>
<text x="448.6" y="308.2" font-size="8.1" text-anchor="start" fill="#000" font-weight="bold" stroke="#000" stroke-width="0.6">BCL-x<tspan font-size="5.5" dy="1.6">L</tspan></text>
<path d="M446.6,337.50 H436.5" stroke="#000" stroke-width="1.25"/>
<path d="M434.3,337.50 L439.6,335.00 L438.6,337.50 L439.6,340.00 Z" fill="#000"/>
<text x="448.6" y="340.5" font-size="8.1" text-anchor="start" fill="#000" font-weight="bold" stroke="#000" stroke-width="0.6">XIAP</text>
<path d="M446.6,366.70 H436.5" stroke="#000" stroke-width="1.25"/>
<path d="M434.3,366.70 L439.6,364.20 L438.6,366.70 L439.6,369.20 Z" fill="#000"/>
<text x="448.6" y="368.8" font-size="8.1" text-anchor="start" fill="#000" font-weight="bold" stroke="#000" stroke-width="0.6">β-actin</text>
</svg>
</body></html>
